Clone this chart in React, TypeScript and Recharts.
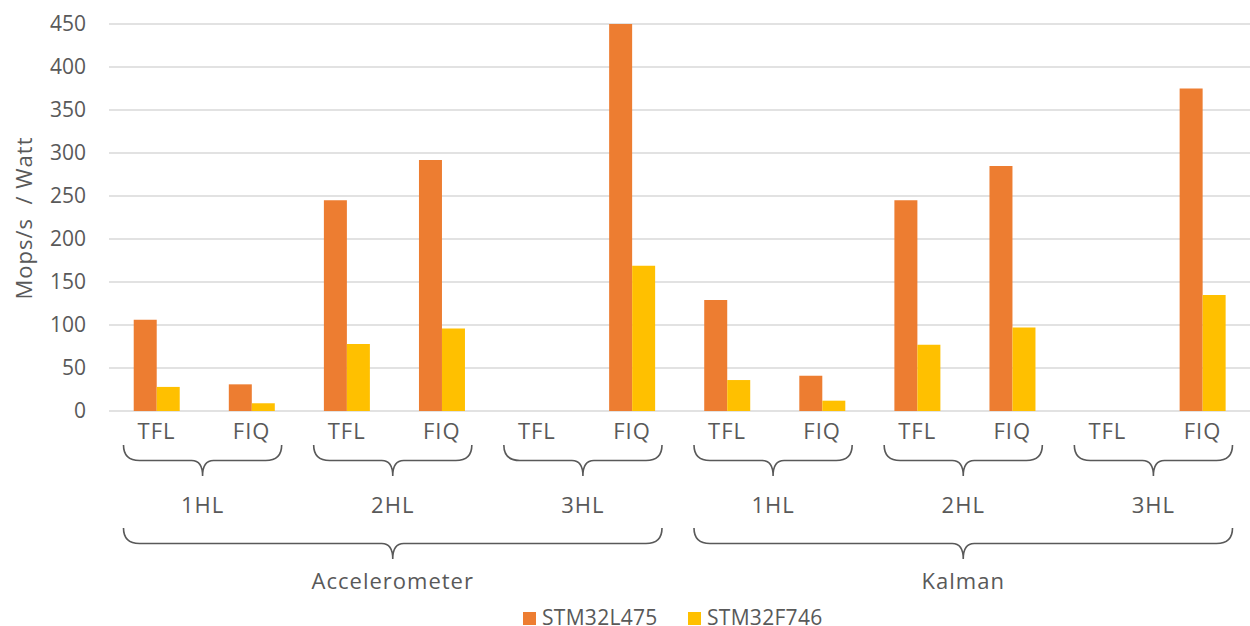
import React from 'react'
import { BarChart, Bar, XAxis, YAxis, CartesianGrid } from 'recharts'

// Leaf categories, grouped two per layer count, three layer counts per sensor.
const subLabels = ['TFL', 'FIQ', 'TFL', 'FIQ', 'TFL', 'FIQ', 'TFL', 'FIQ', 'TFL', 'FIQ', 'TFL', 'FIQ']
const layerLabels = ['1HL', '2HL', '3HL', '1HL', '2HL', '3HL']
const sensorLabels = ['Accelerometer', 'Kalman']

// Mops/s per Watt; null where the build did not fit on the board.
const stm32l475 = [106, 31, 245, 292, null, 450, 129, 41, 245, 285, null, 375]
const stm32f746 = [28, 9, 78, 96, null, 169, 36, 12, 77, 97, null, 135]

const yTicks = [0, 50, 100, 150, 200, 250, 300, 350, 400, 450]

const data = subLabels.map((sub, i) => ({
  id: `${sensorLabels[Math.floor(i / 6)]}-${layerLabels[Math.floor(i / 2)]}-${sub}`,
  sub,
  STM32L475: stm32l475[i],
  STM32F746: stm32f746[i],
}))

const WIDTH = 1250
const HEIGHT = 626
const PLOT_LEFT = 109
const PLOT_RIGHT = 1250
const BAND = (PLOT_RIGHT - PLOT_LEFT) / subLabels.length

const ORANGE = '#ED7D31'
const YELLOW = '#FFC000'
const TEXT = '#595959'
const FONT = '"Open Sans", sans-serif'
const NUM_SIZE = 21
const WORD_SIZE = 22

// Curly brace opening downward, spanning x1..x2 with its point in the middle.
function bracePath(x1: number, x2: number, top: number, depth: number) {
  const h = top + depth / 2
  const p = top + depth
  const mid = (x1 + x2) / 2
  const r = 16
  const rm = 11
  return `M${x1},${top} Q${x1},${h} ${x1 + r},${h} L${mid - rm},${h} Q${mid},${h} ${mid},${p} ` +
    `Q${mid},${h} ${mid + rm},${h} L${x2 - r},${h} Q${x2},${h} ${x2},${top}`
}

function Label({ x, y, children }: { x: number; y: number; children: React.ReactNode }) {
  return (
    <text
      x={x}
      y={y}
      dy="0.36em"
      textAnchor="middle"
      fill={TEXT}
      fontFamily={FONT}
      fontSize={WORD_SIZE}
      letterSpacing={1}
    >
      {children}
    </text>
  )
}

// Multi-level category tick: leaf label, plus group braces on the first leaf of each group.
function CategoryTick(props: any) {
  const { x, y, index } = props
  const parts: React.ReactNode[] = [
    <Label key="sub" x={x} y={y + 20}>{subLabels[index]}</Label>,
  ]
  if (index % 2 === 0) {
    const start = x - BAND / 2
    const x1 = start + 14.5
    const x2 = start + 2 * BAND - 17.5
    parts.push(
      <path key="b1" d={bracePath(x1, x2, y + 34, 31)} fill="none" stroke={TEXT} strokeWidth={1.6} />,
      <Label key="l1" x={(x1 + x2) / 2} y={y + 94}>{layerLabels[index / 2]}</Label>,
    )
  }
  if (index % 6 === 0) {
    const start = x - BAND / 2
    const x1 = start + 14.5
    const x2 = start + 6 * BAND - 17.5
    parts.push(
      <path key="b2" d={bracePath(x1, x2, y + 117, 31)} fill="none" stroke={TEXT} strokeWidth={1.6} />,
      <Label key="l2" x={(x1 + x2) / 2} y={y + 170}>{sensorLabels[index / 6]}</Label>,
    )
  }
  return <g>{parts}</g>
}

function AxisTitle() {
  return (
    <text
      transform="translate(24,218) rotate(-90)"
      dy="0.36em"
      textAnchor="middle"
      fill={TEXT}
      fontFamily={FONT}
      fontSize={WORD_SIZE}
      letterSpacing={1}
      style={{ whiteSpace: 'pre' }}
    >
      {'Mops/s  / Watt'}
    </text>
  )
}

const legendItems = [
  { name: 'STM32L475', color: ORANGE, left: 523 },
  { name: 'STM32F746', color: YELLOW, left: 688 },
]

export default function App() {
  return (
    <div style={{ position: 'absolute', left: 0, top: 0, width: WIDTH, height: HEIGHT, background: '#fff', overflow: 'hidden' }}>
      <BarChart
        width={WIDTH}
        height={HEIGHT}
        data={data}
        margin={{ top: 24, right: 0, left: 0, bottom: 0 }}
        barCategoryGap="26%"
        barGap={0}
      >
        <CartesianGrid vertical={false} stroke="#D9D9D9" strokeWidth={1.4} />
        <YAxis
          width={PLOT_LEFT}
          domain={[0, 450]}
          ticks={yTicks}
          axisLine={false}
          tickLine={false}
          tickSize={0}
          tickMargin={23}
          tick={{ fill: TEXT, fontFamily: FONT, fontSize: NUM_SIZE }}
          label={{ content: () => <AxisTitle /> }}
        />
        <XAxis
          dataKey="id"
          height={HEIGHT - 24 - 387}
          axisLine={false}
          tickLine={false}
          tickSize={0}
          tickMargin={0}
          interval={0}
          tick={(p: any) => <CategoryTick {...p} />}
        />
        <Bar dataKey="STM32L475" fill={ORANGE} isAnimationActive={false} />
        <Bar dataKey="STM32F746" fill={YELLOW} isAnimationActive={false} />
      </BarChart>
      {legendItems.map(item => (
        <React.Fragment key={item.name}>
          <span
            style={{ position: 'absolute', left: item.left, top: 612, width: 13, height: 13, background: item.color }}
          />
          <div
            style={{
              position: 'absolute',
              left: item.left + 19,
              top: 604,
              height: 26,
              lineHeight: '26px',
              fontFamily: FONT,
              fontSize: NUM_SIZE,
              letterSpacing: 0.3,
              color: TEXT,
              whiteSpace: 'nowrap',
            }}
          >
            {item.name}
          </div>
        </React.Fragment>
      ))}
    </div>
  )
}
